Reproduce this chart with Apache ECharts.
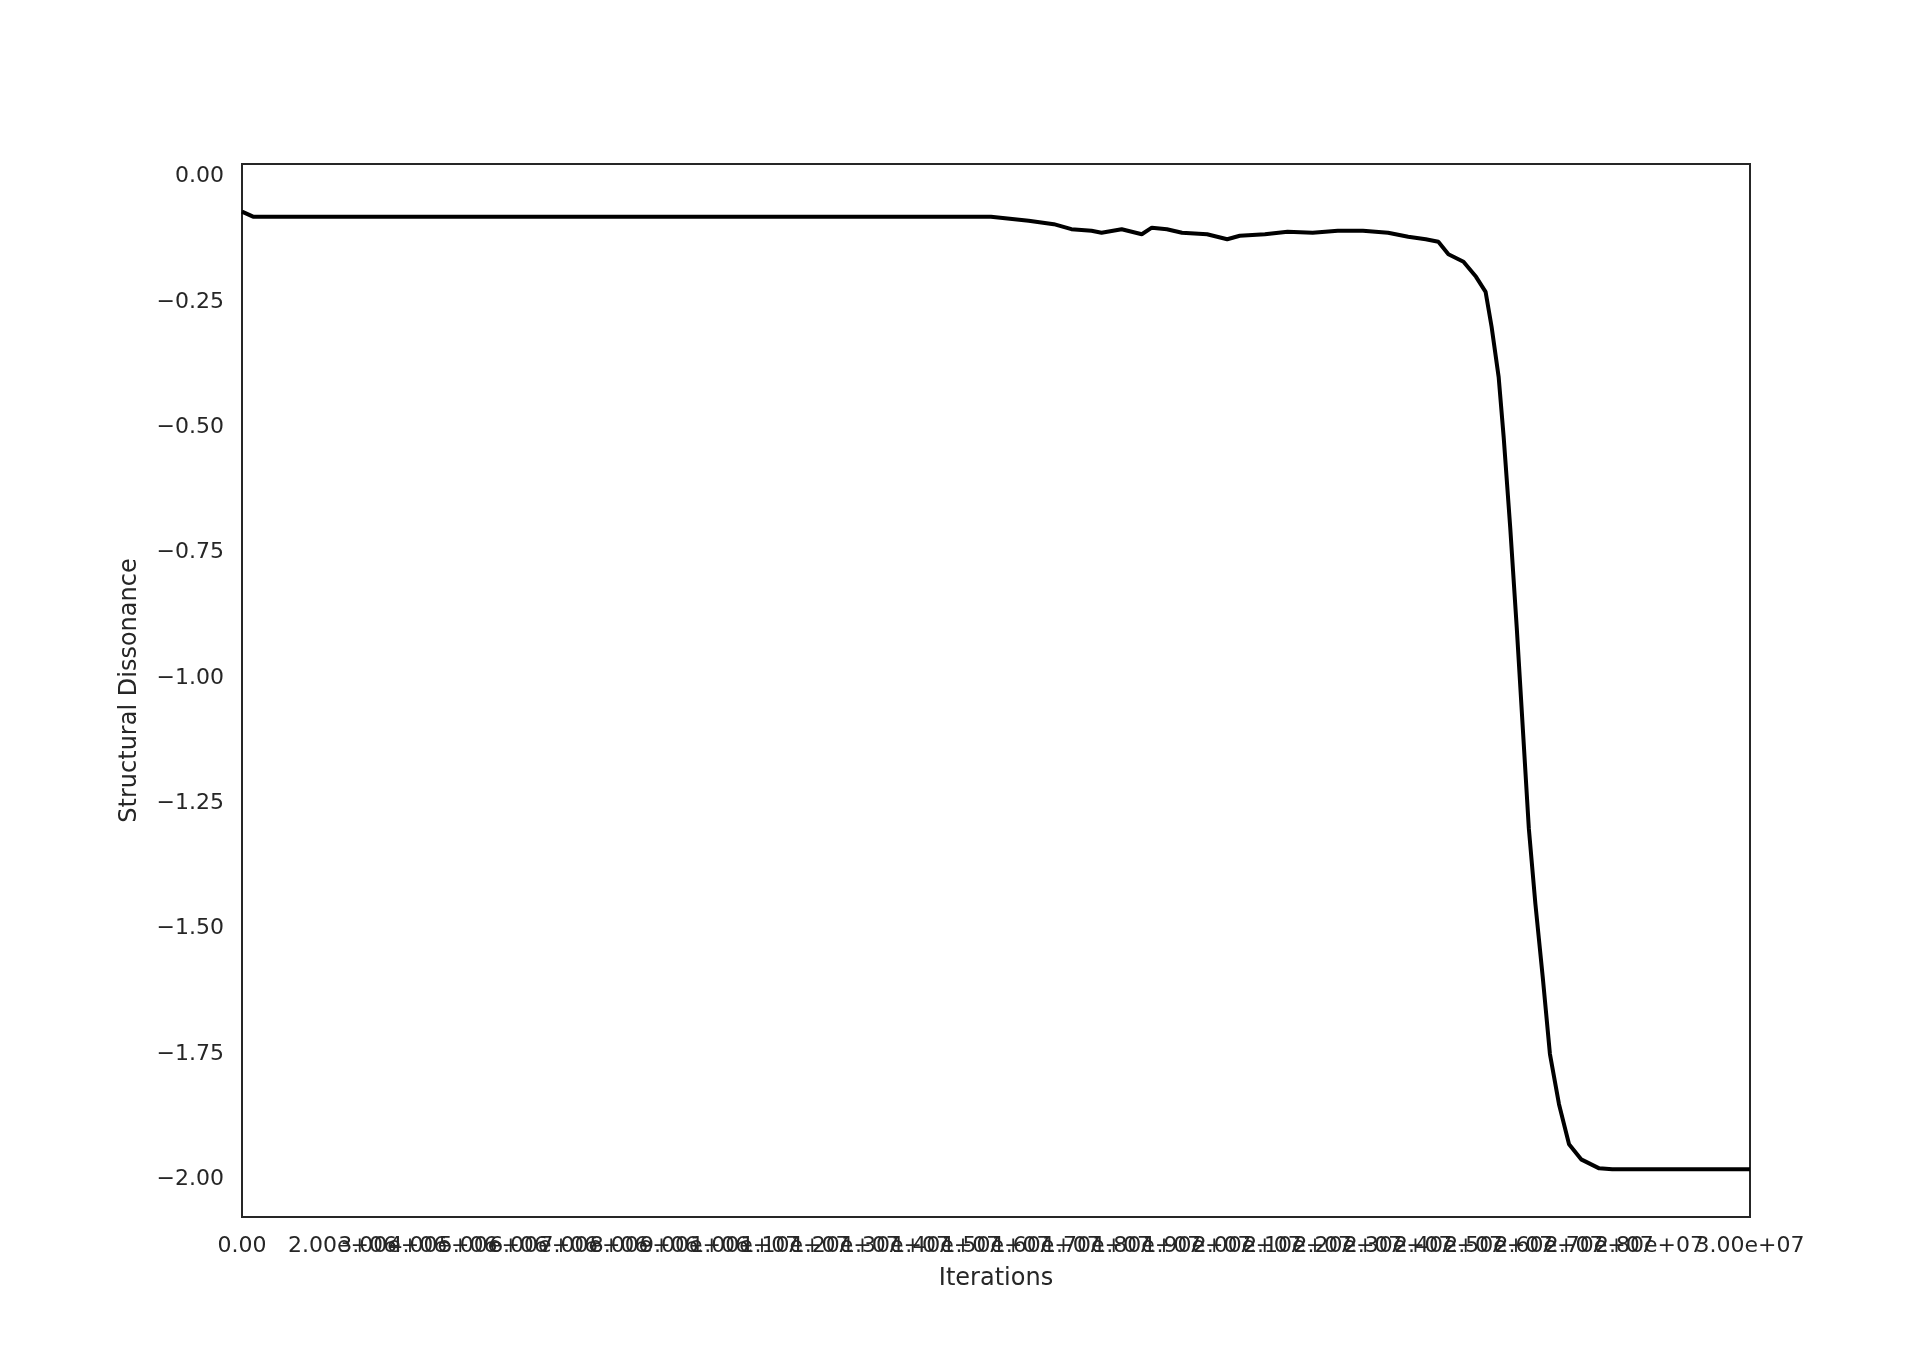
<!DOCTYPE html>
<html style="height: 100%">
<head>
<meta charset="utf-8">
<script src="https://cdn.jsdelivr.net/npm/echarts@6/dist/echarts.min.js"></script>
</head>
<body style="height: 100%; margin: 0; background: #fff">
<div id="container" style="width: 1920px; height: 1351px"></div>
<script type="text/javascript">
// iterations in millions, dissonance
let iterMillions = [0, 0.22, 2.57, 5.04, 7.5, 9.98, 12.44, 14.9, 15.65, 16.15, 16.5, 16.9, 17.1, 17.5, 17.9, 18.1, 18.4, 18.7, 19.2, 19.6, 19.85, 20.35, 20.8, 21.3, 21.8, 22.3, 22.8, 23.2, 23.55, 23.8, 24.0, 24.3, 24.55, 24.74, 24.86, 25.0, 25.1, 25.23, 25.36, 25.48, 25.6, 25.73, 25.88, 26.02, 26.2, 26.4, 26.64, 27.0, 27.26, 30]
let dissonance = [-0.07, -0.08, -0.08, -0.08, -0.08, -0.08, -0.08, -0.08, -0.088, -0.095, -0.105, -0.108, -0.112, -0.105, -0.115, -0.102, -0.105, -0.112, -0.115, -0.125, -0.118, -0.115, -0.11, -0.112, -0.108, -0.108, -0.112, -0.12, -0.125, -0.13, -0.155, -0.17, -0.2, -0.23, -0.3, -0.4, -0.52, -0.7, -0.9, -1.1, -1.3, -1.45, -1.6, -1.75, -1.85, -1.93, -1.96, -1.978, -1.98, -1.98]
let xTicks = []
for (let i = 0; i <= 30; i++) xTicks.push(i * 1e6)
let yTicks = [0, -0.25, -0.5, -0.75, -1, -1.25, -1.5, -1.75, -2]

let points = iterMillions.map((v, i) => [v * 1e6, dissonance[i]])

function fmtX(v) {
    if (v === 0) return '0.00'
    let s = v.toExponential(2)
    return s.replace(/e\+(\d)$/, 'e+0$1')
}

let chart = echarts.init(document.getElementById('container'))
chart.setOption({
    animation: false,
    textStyle: { fontFamily: 'DejaVu Sans' },
    grid: { left: 242, right: 170, top: 164, bottom: 134, show: true, borderColor: '#262626', borderWidth: 2, backgroundColor: '#fff', containLabel: false },
    xAxis: {
        type: 'value', min: 0, max: 3e7,
        name: 'Iterations', nameLocation: 'middle', nameGap: 50,
        nameTextStyle: { fontSize: 24, color: '#262626' },
        axisLine: { show: false }, axisTick: { show: false }, splitLine: { show: false },
        axisLabel: { customValues: xTicks, fontSize: 22, color: '#262626', margin: 18, formatter: fmtX,
            hideOverlap: false, showMinLabel: true, showMaxLabel: true, alignMinLabel: 'center', alignMaxLabel: 'center' }
    },
    yAxis: {
        type: 'value', min: -2.075, max: 0.025,
        name: 'Structural Dissonance', nameLocation: 'middle', nameGap: 100,
        nameTextStyle: { fontSize: 24, color: '#262626' },
        axisLine: { show: false }, axisTick: { show: false }, splitLine: { show: false },
        axisLabel: { customValues: yTicks, fontSize: 22, color: '#262626', margin: 18,
            showMinLabel: true, showMaxLabel: true,
            formatter: v => v.toFixed(2).replace('-', '\u2212') }
    },
    series: [{
        type: 'line', data: points, showSymbol: false,
        lineStyle: { color: '#000', width: 4 }
    }]
})
</script>
</body>
</html>
